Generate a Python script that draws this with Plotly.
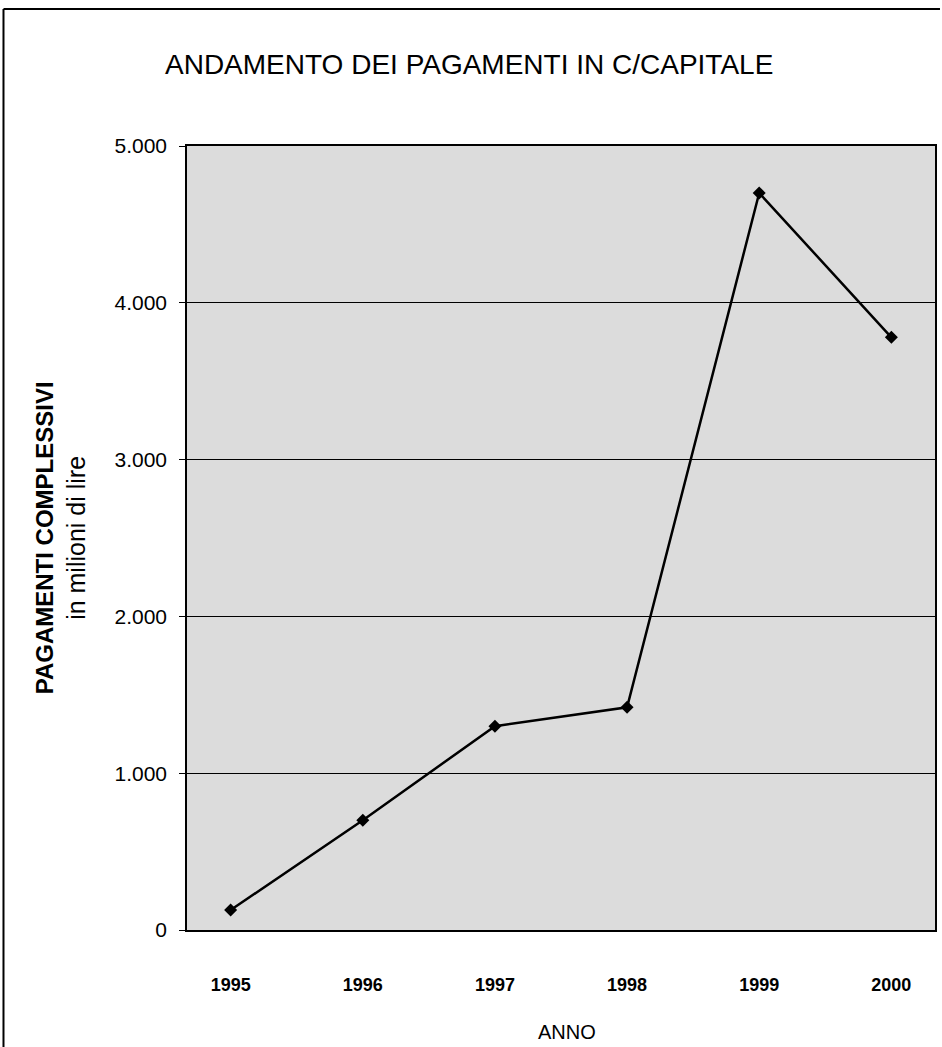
import plotly.graph_objects as go

years = ["1995", "1996", "1997", "1998", "1999", "2000"]
payments = [127, 700, 1300, 1420, 4700, 3780]
y_ticks = [0, 1000, 2000, 3000, 4000, 5000]

W, H = 942, 1047
L, R, T, B = 187, 5, 146, 117
PW, PH = W - L - R, H - T - B

fig = go.Figure()
fig.add_trace(go.Scatter(
    x=years, y=payments, mode="lines+markers",
    line=dict(color="black", width=2.5),
    marker=dict(symbol="diamond", size=10, color="black"),
    showlegend=False,
))

FONT = "Liberation Sans, Arial, sans-serif"

fig.update_layout(
    width=W, height=H,
    margin=dict(l=L, r=R, t=T, b=B),
    paper_bgcolor="white",
    plot_bgcolor="#dcdcdc",
    separators=",.",
    font=dict(family=FONT, color="black"),
    xaxis=dict(
        type="category",
        showline=True, linecolor="black", linewidth=1.5, mirror=True,
        showgrid=False, ticks="",
        tickfont=dict(size=18, family=FONT, weight="bold"),
        ticklabelstandoff=38,
    ),
    yaxis=dict(
        range=[0, 5000], tickvals=y_ticks, tickformat=",d",
        showline=True, linecolor="black", linewidth=1.5, mirror=True,
        showgrid=True, gridcolor="black", gridwidth=1,
        ticks="outside", ticklen=6, tickcolor="black",
        tickfont=dict(size=21, family=FONT),
        ticklabelstandoff=8,
        zeroline=False,
    ),
    annotations=[
        dict(text="ANDAMENTO DEI PAGAMENTI IN C/CAPITALE", xref="paper", yref="paper",
             x=(470 - L) / PW, y=1 + (T - 65) / PH,
             xanchor="center", yanchor="middle", showarrow=False,
             font=dict(size=28, family=FONT)),
        dict(text="ANNO", xref="paper", yref="paper",
             x=(568 - L) / PW, y=-(1032 - (H - B)) / PH,
             xanchor="center", yanchor="middle", showarrow=False,
             font=dict(size=20, family=FONT)),
        dict(text="<b>PAGAMENTI COMPLESSIVI</b><br><span style='font-size:25px'>in milioni di lire</span>",
             xref="paper", yref="paper",
             x=(60 - L) / PW, y=(H - B - 538) / PH,
             xanchor="center", yanchor="middle", showarrow=False, textangle=-90,
             font=dict(size=24, family=FONT)),
    ],
    shapes=[
        dict(type="line", xref="paper", yref="paper",
             x0=(3 - L) / PW, x1=(3 - L) / PW,
             y0=1 + (T - 9) / PH, y1=-B / PH,
             line=dict(color="black", width=2)),
        dict(type="line", xref="paper", yref="paper",
             x0=(3 - L) / PW, x1=1 + R / PW,
             y0=1 + (T - 9) / PH, y1=1 + (T - 9) / PH,
             line=dict(color="black", width=2)),
    ],
)

fig.write_html("out.html", config={"displayModeBar": False},
               post_script="document.body.style.margin='0px';document.body.style.overflow='hidden';")
